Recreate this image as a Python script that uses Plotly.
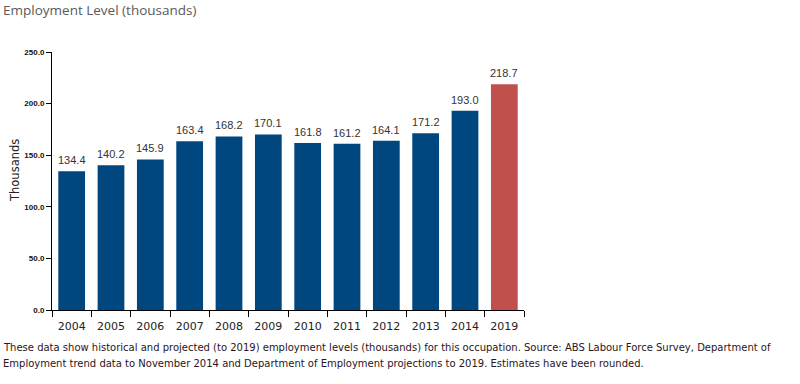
import plotly.graph_objects as go

years = ["2004", "2005", "2006", "2007", "2008", "2009", "2010", "2011", "2012", "2013", "2014", "2019"]
values = [134.4, 140.2, 145.9, 163.4, 168.2, 170.1, 161.8, 161.2, 164.1, 171.2, 193.0, 218.7]
colors = ["#00467f"] * 11 + ["#c0504d"]

title_text = "Employment Level (thousands)"
y_title = "Thousands"
caption_1 = ("These data show historical and projected (to 2019) employment levels (thousands) for this occupation. "
             "Source: ABS Labour Force Survey, Department of")
caption_2 = ("Employment trend data to November 2014 and Department of Employment projections to 2019. "
             "Estimates have been rounded.")

PW, PH = 472, 258

fig = go.Figure()
fig.add_trace(go.Bar(x=years, y=values, marker=dict(color=colors, line=dict(width=0)),
                     width=0.68, hoverinfo="x+y"))

for i, v in enumerate(values):
    fig.add_annotation(x=i, y=v, text=f"{v:.1f}", showarrow=False, yanchor="bottom", yshift=3,
                       font=dict(family="Liberation Sans, Arial, sans-serif", size=11, color="#333333"))

fig.add_annotation(xref="paper", yref="paper", x=-51/PW, y=-(347-310)/PH, xanchor="left", yanchor="middle",
                   text=caption_1, showarrow=False, align="left",
                   font=dict(family="DejaVu Sans, Verdana, sans-serif", size=10, color="#2a1520"))
fig.add_annotation(xref="paper", yref="paper", x=-51/PW, y=-(363-310)/PH, xanchor="left", yanchor="middle",
                   text=caption_2, showarrow=False, align="left",
                   font=dict(family="DejaVu Sans, Verdana, sans-serif", size=10, color="#2a1520"))
fig.add_annotation(xref="paper", yref="paper", x=-51/PW, y=(52-10)/PH + 1, xanchor="left", yanchor="middle",
                   text=title_text, showarrow=False, align="left",
                   font=dict(family="Open Sans, Liberation Sans, sans-serif", size=13.5, color="#595959"))
fig.add_annotation(xref="paper", yref="paper", x=(15-52)/PW, y=(310-171)/PH, xanchor="center", yanchor="middle",
                   text=y_title, textangle=-90, showarrow=False,
                   font=dict(family="DejaVu Sans, Verdana, sans-serif", size=11.5, color="#222222"))

fig.update_layout(
    width=800, height=384,
    margin=dict(l=52, r=800 - 52 - PW, t=52, b=74),
    paper_bgcolor="white", plot_bgcolor="white",
    showlegend=False,
    xaxis=dict(type="category", range=[-0.5, 11.5], automargin=False, showline=True, linecolor="black",
               linewidth=1, ticks="outside", tickson="boundaries", ticklabelstandoff=6,
               ticklen=6, tickcolor="black", showgrid=False,
               tickfont=dict(family="DejaVu Sans, Verdana, sans-serif", size=11, color="#222222")),
    yaxis=dict(range=[0, 250], tickvals=[0, 50, 100, 150, 200, 250], tickformat=".1f", automargin=False,
               showline=True, linecolor="black", linewidth=1, ticks="outside", ticklen=5,
               tickcolor="black", showgrid=False, zeroline=False,
               tickfont=dict(family="Liberation Sans Narrow, Arial Narrow, Liberation Sans, sans-serif",
                             size=8, color="#111111", weight="bold")),
)

fig.write_html("out.html", config={"displayModeBar": False},
               post_script="document.body.style.margin='0';")
